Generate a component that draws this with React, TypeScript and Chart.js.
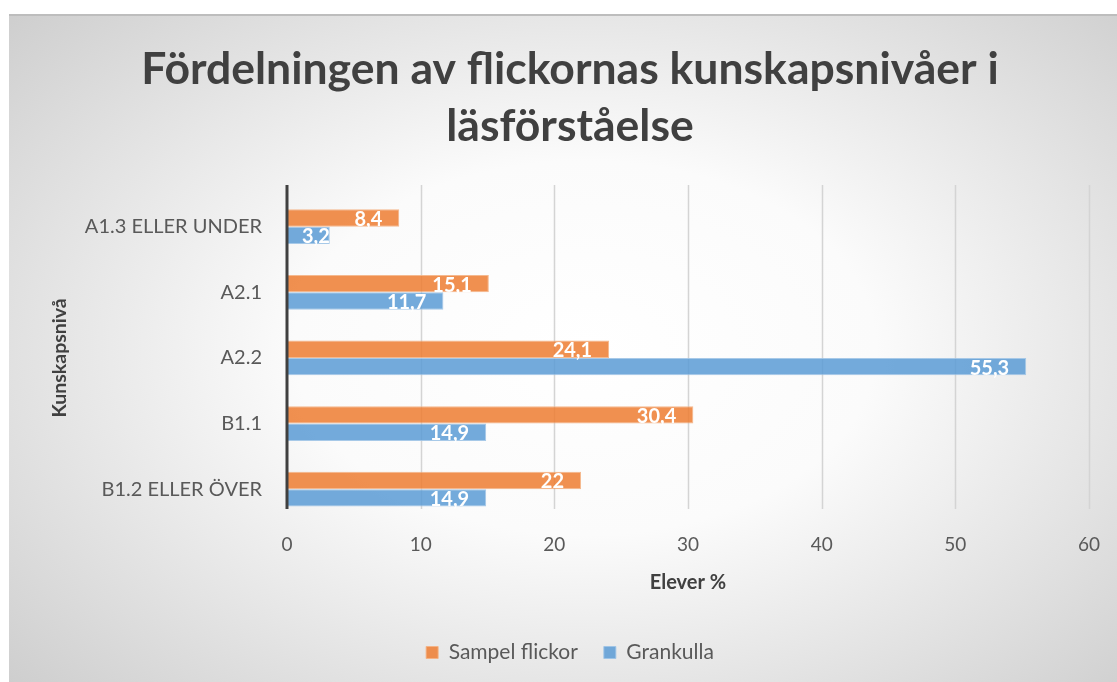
import React, { useEffect, useRef } from "react";
import { Chart, registerables } from "chart.js";

Chart.register(...registerables);

const titleLines = ["Fördelningen av flickornas kunskapsnivåer i", "läsförståelse"];
const categories = ["A1.3 ELLER UNDER", "A2.1", "A2.2", "B1.1", "B1.2 ELLER ÖVER"];
const seriesNames = ["Sampel flickor", "Grankulla"];
const sampelFlickor = [8.4, 15.1, 24.1, 30.4, 22];
const grankulla = [3.2, 11.7, 55.3, 14.9, 14.9];
const xTicks = [0, 10, 20, 30, 40, 50, 60];
const xTitle = "Elever %";
const yTitle = "Kunskapsnivå";

const FONT = "Lato, 'Open Sans', sans-serif";
const GREY_TEXT = "#595959";

const gridPlugin = {
  id: "customGrid",
  beforeDatasetsDraw(chart: any) {
    const { ctx, chartArea, scales } = chart;
    const x = scales.x;
    ctx.save();
    ctx.strokeStyle = "#d4d4d4";
    ctx.lineWidth = 1.5;
    for (const v of xTicks) {
      if (v === 0) continue;
      const px = Math.round(x.getPixelForValue(v)) + 0.5;
      ctx.beginPath();
      ctx.moveTo(px, chartArea.top - 9);
      ctx.lineTo(px, chartArea.bottom - 13);
      ctx.stroke();
    }
    ctx.restore();
  },
  afterDatasetsDraw(chart: any) {
    const { ctx, chartArea, scales } = chart;
    const x = scales.x;
    ctx.save();
    const p0 = x.getPixelForValue(0);
    ctx.strokeStyle = "#404040";
    ctx.lineWidth = 3;
    ctx.beginPath();
    ctx.moveTo(p0, chartArea.top - 9);
    ctx.lineTo(p0, chartArea.bottom - 13);
    ctx.stroke();
    ctx.font = `bold 20px ${FONT}`;
    ctx.fillStyle = "#ffffff";
    ctx.textBaseline = "alphabetic";
    ctx.textAlign = "left";
    chart.data.datasets.forEach((ds: any, di: number) => {
      const meta = chart.getDatasetMeta(di);
      meta.data.forEach((bar: any, i: number) => {
        const v = ds.data[i];
        const txt = String(v).replace(".", ",");
        const w = ctx.measureText(txt).width;
        const right = bar.x - 17;
        const left = Math.max(right - w, bar.base + 15);
        ctx.fillText(txt, left, bar.y + 8);
      });
    });
    ctx.restore();
  },
};

export default function App() {
  const ref = useRef<HTMLCanvasElement>(null);
  useEffect(() => {
    if (!ref.current) return;
    const chart = new Chart(ref.current, {
      type: "bar",
      data: {
        labels: categories,
        datasets: [
          {
            label: seriesNames[0],
            data: sampelFlickor,
            backgroundColor: "rgba(237,125,49,0.85)",
            borderColor: "rgba(244,177,131,0.9)",
            borderWidth: 1,
            categoryPercentage: 0.53,
            barPercentage: 1,
          },
          {
            label: seriesNames[1],
            data: grankulla,
            backgroundColor: "rgba(91,155,213,0.85)",
            borderColor: "rgba(157,195,230,0.9)",
            borderWidth: 1,
            categoryPercentage: 0.53,
            barPercentage: 1,
          },
        ],
      },
      options: {
        indexAxis: "y",
        animation: false,
        responsive: false,
        devicePixelRatio: 1,
        layout: { padding: { left: 14, right: 0, top: 0, bottom: 9 } },
        scales: {
          x: {
            min: 0,
            max: 60,
            ticks: {
              stepSize: 10,
              padding: 11,
              color: GREY_TEXT,
              font: { family: FONT, size: 19 },
            },
            grid: { display: false, drawTicks: false },
            border: { display: false },
            title: {
              display: true,
              text: xTitle,
              color: "#404040",
              font: { family: FONT, size: 20, weight: "bold" },
              padding: { top: 0, bottom: 21 },
            },
            afterFit(scale: any) {
              scale.height = 94;
            },
          },
          y: {
            ticks: {
              padding: 25,
              color: GREY_TEXT,
              font: { family: FONT, size: 20 },
            },
            grid: { display: false, drawTicks: false },
            border: { display: false },
            title: {
              display: true,
              text: yTitle,
              color: "#404040",
              font: { family: FONT, size: 19.5, weight: "bold" },
              padding: { top: 25.5, bottom: 0 },
            },
            afterFit(scale: any) {
              scale.width = 264;
            },
          },
          y2: {
            type: "category",
            position: "right",
            display: true,
            ticks: { display: false },
            grid: { display: false, drawTicks: false },
            border: { display: false },
            afterFit(scale: any) {
              scale.width = 28;
            },
          },
        },
        plugins: {
          title: {
            display: true,
            text: titleLines,
            color: "#404040",
            font: { family: FONT, size: 44.5, weight: "bold", lineHeight: 1.28 },
            padding: { top: 27.5, bottom: 38.5 },
          },
          legend: {
            position: "bottom",
            labels: {
              boxWidth: 12,
              boxHeight: 12,
              color: GREY_TEXT,
              font: { family: FONT, size: 21 },
              padding: 26,
            },
          },
          tooltip: { enabled: false },
        },
      },
      plugins: [gridPlugin],
    } as any);
    return () => chart.destroy();
  }, []);

  return (
    <div style={{ position: "absolute", left: 0, top: 0, width: 1117, height: 682, background: "#ffffff", overflow: "hidden" }}>
      <div
        style={{
          position: "absolute",
          left: 9,
          top: 14,
          width: 1108,
          height: 668,
          background: "radial-gradient(ellipse 75% 80% at 52% 50%, #ffffff 0%, #fbfbfb 35%, #c9c9c9 100%)",
        }}
      >
        <div style={{ position: "absolute", left: 0, top: 0, width: 1108, height: 2, background: "#bdbdbd" }} />
        <canvas ref={ref} width={1108} height={668} style={{ position: "absolute", left: 0, top: 0 }} />
      </div>
    </div>
  );
}
